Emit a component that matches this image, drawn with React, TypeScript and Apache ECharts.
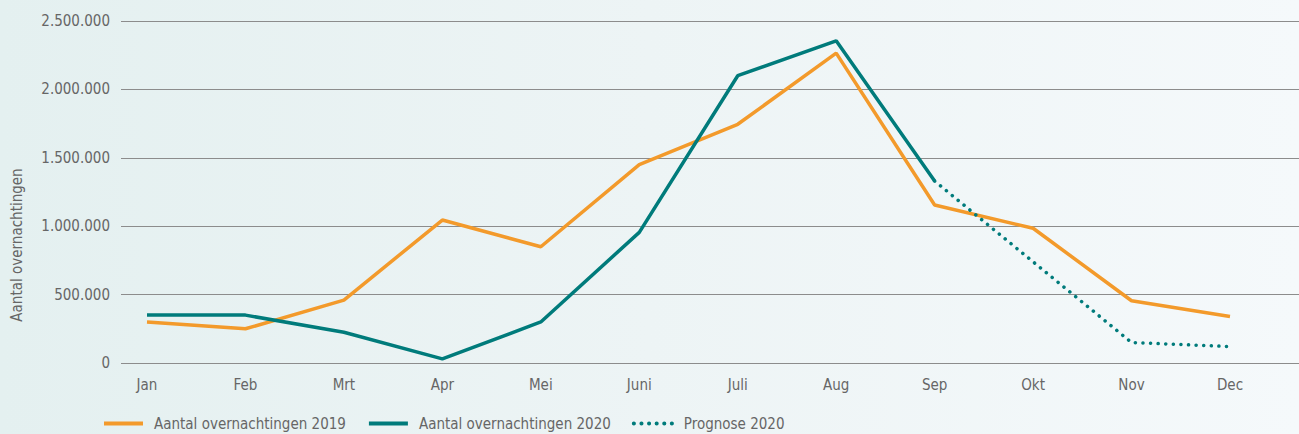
import React, { useEffect, useRef } from "react";
import * as echarts from "echarts";

const months = ["Jan", "Feb", "Mrt", "Apr", "Mei", "Juni", "Juli", "Aug", "Sep", "Okt", "Nov", "Dec"];
const overnachtingen2019 = [300000, 250000, 460000, 1045000, 850000, 1450000, 1745000, 2265000, 1155000, 985000, 455000, 340000];
const overnachtingen2020 = [350000, 350000, 225000, 30000, 300000, 955000, 2100000, 2355000, 1330000, null, null, null];
const prognose2020 = [null, null, null, null, null, null, null, null, 1330000, 740000, 150000, 120000];

const FONT = "'DejaVu Sans Condensed', 'DejaVu Sans', sans-serif";
const GREY = "#666666";
const ORANGE = "#f39a2b";
const TEAL = "#007b7b";

const fmt = (v: number) => String(v).replace(/\B(?=(\d{3})+(?!\d))/g, ".");

export default function App() {
  const ref = useRef<HTMLDivElement>(null);
  useEffect(() => {
    document.body.style.margin = "0";
    if (!ref.current) return;
    const chart = echarts.init(ref.current, undefined, { renderer: "svg" });
    chart.setOption({
      animation: false,
      backgroundColor: "transparent",
      textStyle: { fontFamily: FONT },
      grid: [
        { left: 121, right: 0, top: 21, bottom: 71 },
        { left: 147, right: 69, top: 21, bottom: 71 },
      ],
      xAxis: [
        { type: "value", gridIndex: 0, show: false, min: 0, max: 1 },
        {
          type: "category",
          gridIndex: 1,
          data: months,
          boundaryGap: false,
          axisLine: { show: false },
          axisTick: { show: false },
          axisLabel: { color: GREY, fontSize: 15, fontFamily: FONT, margin: 14 },
        },
      ],
      yAxis: [
        {
          type: "value",
          gridIndex: 0,
          min: 0,
          max: 2500000,
          interval: 500000,
          axisLine: { show: false },
          axisTick: { show: false },
          axisLabel: { color: GREY, fontSize: 15, fontFamily: FONT, margin: 11, formatter: (v: number) => fmt(v) },
          splitLine: { lineStyle: { color: "#8c8c8c", width: 1 } },
        },
        { type: "value", gridIndex: 1, min: 0, max: 2500000, interval: 500000, show: false, splitLine: { show: false } },
      ],
      legend: {
        left: 102,
        top: 416,
        padding: 0,
        itemWidth: 39,
        itemHeight: 14,
        itemGap: 21,
        itemStyle: { color: "transparent", borderWidth: 0 },
        lineStyle: { width: 4 },
        textStyle: { color: GREY, fontSize: 15, fontFamily: FONT, padding: [0, 0, 0, 6] },
        data: ["Aantal overnachtingen 2019", "Aantal overnachtingen 2020", "Prognose 2020"],
      },
      graphic: [
        {
          type: "text",
          x: 17,
          y: 245,
          rotation: Math.PI / 2,
          style: {
            text: "Aantal overnachtingen",
            fill: GREY,
            font: `15px ${FONT}`,
            align: "center",
            verticalAlign: "middle",
          },
        },
      ],
      series: [
        {
          name: "Aantal overnachtingen 2019",
          type: "line",
          xAxisIndex: 1,
          yAxisIndex: 1,
          data: overnachtingen2019,
          symbol: "none",
          lineStyle: { color: ORANGE, width: 3.5 },
          itemStyle: { color: ORANGE },
        },
        {
          name: "Aantal overnachtingen 2020",
          type: "line",
          xAxisIndex: 1,
          yAxisIndex: 1,
          data: overnachtingen2020,
          symbol: "none",
          lineStyle: { color: TEAL, width: 3.5 },
          itemStyle: { color: TEAL },
        },
        {
          name: "Prognose 2020",
          type: "line",
          xAxisIndex: 1,
          yAxisIndex: 1,
          data: prognose2020,
          symbol: "none",
          lineStyle: { color: TEAL, width: 3.5, type: [0.1, 7.5], cap: "round" },
          itemStyle: { color: TEAL },
        },
      ],
    });
    return () => chart.dispose();
  }, []);
  return (
    <div
      ref={ref}
      style={{
        width: 1299,
        height: 434,
        background: "linear-gradient(90deg, #e4f0f0 0%, #edf4f5 50%, #f5f9fb 100%)",
      }}
    />
  );
}
